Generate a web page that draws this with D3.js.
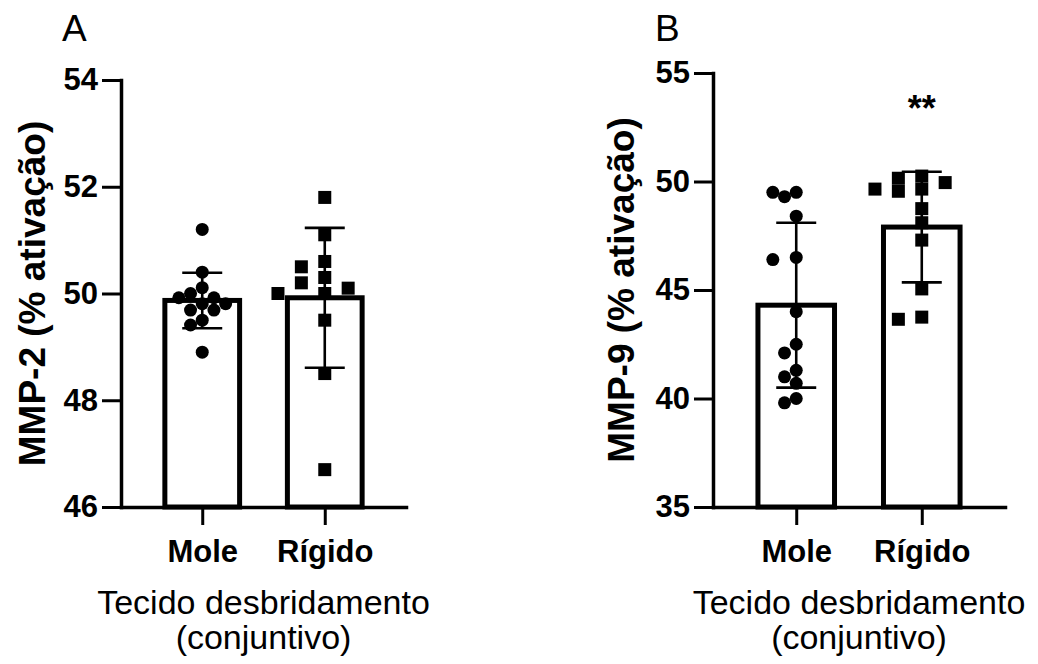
<!DOCTYPE html>
<html><head><meta charset="utf-8">
<script src="https://cdn.jsdelivr.net/npm/d3@7"></script>
<style>
body{margin:0;background:#fff}
svg{display:block}
text{font-family:"Liberation Sans",Arial,sans-serif;fill:#000}
</style>
</head><body>
<svg id="c" width="1038" height="664"></svg>
<script>
// ---------- data ----------
const categories = ["Mole", "Rígido"];
const xTitleLines = ["Tecido desbridamento", "(conjuntivo)"];

// Panel A – MMP-2 (% ativação)
const mmp2Mole   = [51.2, 50.4, 50.11, 50.0, 49.92, 49.92, 49.81, 49.81, 49.69, 49.69, 49.5, 49.41, 48.9];
const mmp2Rigido = [51.8, 51.1, 50.6, 50.5, 50.3, 50.2, 50.1, 50.0, 50.0, 49.5, 48.5, 46.7];
const mmp2Mean   = [49.87, 49.92];
const mmp2SD     = [0.52, 1.31];
const mmp2Ticks  = [46, 48, 50, 52, 54];

// Panel B – MMP-9 (% ativação)
const mmp9Mole   = [49.5, 49.3, 49.5, 48.4, 46.5, 46.4, 44.0, 42.5, 42.1, 41.3, 41.0, 40.7, 39.8, 40.0];
const mmp9Rigido = [50.25, 50.15, 49.95, 49.65, 49.65, 49.55, 48.75, 48.1, 47.3, 45.05, 43.75, 43.65];
const mmp9Mean   = [44.3, 47.9];
const mmp9SD     = [3.8, 2.55];
const mmp9Ticks  = [35, 40, 45, 50, 55];
const mmp9Signif = ["", "**"];

// ---------- drawing ----------
const svg = d3.select("#c");

function swarm(vals, yScale, cx, size, shape) {
  const step = size * 0.9;
  const placed = [];
  const order = vals.map((v, i) => i).sort((a, b) => vals[b] - vals[a]);
  order.forEach(i => {
    const py = yScale(vals[i]);
    for (let k = 0; k < 60; k++) {
      const off = k === 0 ? 0 : (k % 2 ? -1 : 1) * Math.ceil(k / 2) * step;
      const px = cx + off;
      const ok = placed.every(p => {
        const dx = p.x - px, dy = p.y - py;
        return shape === "circle"
          ? Math.hypot(dx, dy) >= size * 0.92
          : (Math.abs(dx) >= size * 0.95 || Math.abs(dy) >= size * 0.95);
      });
      if (ok) { placed.push({ x: px, y: py }); break; }
    }
  });
  return placed;
}

function drawPanel(cfg) {
  const g = svg.append("g");
  const y = d3.scaleLinear().domain(cfg.domain).range([cfg.bottom, cfg.top]);
  const x = d3.scalePoint().domain(categories).range([cfg.left, cfg.right]).padding(0.663);
  const bw = x.step() * 0.61;

  // bars
  g.selectAll("rect.bar").data(categories).join("rect")
    .attr("x", d => x(d) - bw / 2)
    .attr("y", (d, i) => y(cfg.means[i]))
    .attr("width", bw)
    .attr("height", (d, i) => cfg.bottom - y(cfg.means[i]))
    .attr("fill", "#fff").attr("stroke", "#000").attr("stroke-width", 5);

  // error bars
  categories.forEach((c, i) => {
    const cx = x(c), hi = y(cfg.means[i] + cfg.sds[i]), lo = y(cfg.means[i] - cfg.sds[i]);
    g.append("line").attr("x1", cx).attr("x2", cx).attr("y1", hi).attr("y2", lo)
      .attr("stroke", "#000").attr("stroke-width", 2.6);
    [hi, lo].forEach(yy => g.append("line").attr("x1", cx - 20).attr("x2", cx + 20)
      .attr("y1", yy).attr("y2", yy).attr("stroke", "#000").attr("stroke-width", 2.6));
  });

  // points
  const circ = swarm(cfg.points[0], y, x(categories[0]), 13, "circle");
  g.selectAll("circle.pt").data(circ).join("circle")
    .attr("cx", d => d.x).attr("cy", d => d.y).attr("r", 6.5).attr("fill", "#000");
  const sq = swarm(cfg.points[1], y, x(categories[1]), 13, "square");
  g.selectAll("rect.pt").data(sq).join("rect")
    .attr("x", d => d.x - 6.5).attr("y", d => d.y - 6.5).attr("width", 13).attr("height", 13).attr("fill", "#000");

  // axes
  const ya = g.append("g").attr("transform", `translate(${cfg.left},0)`)
    .call(d3.axisLeft(y).tickValues(cfg.ticks).tickSize(19).tickSizeOuter(0).tickPadding(4).tickFormat(d3.format("d")));
  ya.select(".domain").attr("stroke-width", 3.5).attr("stroke-linecap", "square");
  ya.selectAll(".tick line").attr("stroke-width", 3);
  ya.selectAll(".tick text").attr("font-size", 31).attr("font-weight", "bold")
    .attr("font-family", '"Liberation Sans",Arial,sans-serif').attr("fill", "#000");

  const xa = g.append("g").attr("transform", `translate(0,${cfg.bottom})`)
    .call(d3.axisBottom(x).tickSize(18).tickSizeOuter(0).tickPadding(15));
  xa.select(".domain").attr("stroke-width", 3.5).attr("stroke-linecap", "square");
  xa.selectAll(".tick line").attr("stroke-width", 3);
  xa.selectAll(".tick text").attr("font-size", 31).attr("font-weight", "bold")
    .attr("font-family", '"Liberation Sans",Arial,sans-serif').attr("fill", "#000");

  // significance
  if (cfg.signif) {
    categories.forEach((c, i) => {
      if (!cfg.signif[i]) return;
      g.append("text").attr("x", x(c)).attr("y", cfg.signifY).attr("text-anchor", "middle")
        .attr("font-size", 36).attr("font-weight", "bold").text(cfg.signif[i]);
    });
  }

  // y title
  g.append("text")
    .attr("transform", `translate(${cfg.yTitleX},${(cfg.top + cfg.bottom) / 2}) rotate(-90)`)
    .attr("text-anchor", "middle").attr("font-size", 37).attr("font-weight", "bold")
    .text(cfg.yTitle);

  // x title
  const xc = (cfg.left + cfg.right) / 2;
  xTitleLines.forEach((t, i) => g.append("text").attr("x", xc).attr("y", 614 + i * 35)
    .attr("text-anchor", "middle").attr("font-size", 34).text(t));

  // panel letter
  g.append("text").attr("x", cfg.letterX).attr("y", 41).attr("font-size", 37).text(cfg.letter);
}

drawPanel({
  letter: "A", letterX: 62, left: 121, right: 406, top: 80, bottom: 507,
  domain: [46, 54], ticks: mmp2Ticks, means: mmp2Mean, sds: mmp2SD,
  points: [mmp2Mole, mmp2Rigido], yTitle: "MMP-2 (% ativação)", yTitleX: 45
});
drawPanel({
  letter: "B", letterX: 655, left: 713, right: 1005, top: 73, bottom: 507,
  domain: [35, 55], ticks: mmp9Ticks, means: mmp9Mean, sds: mmp9SD,
  points: [mmp9Mole, mmp9Rigido], yTitle: "MMP-9 (% ativação)", yTitleX: 634,
  signif: mmp9Signif, signifY: 121
});
</script>
</body></html>
